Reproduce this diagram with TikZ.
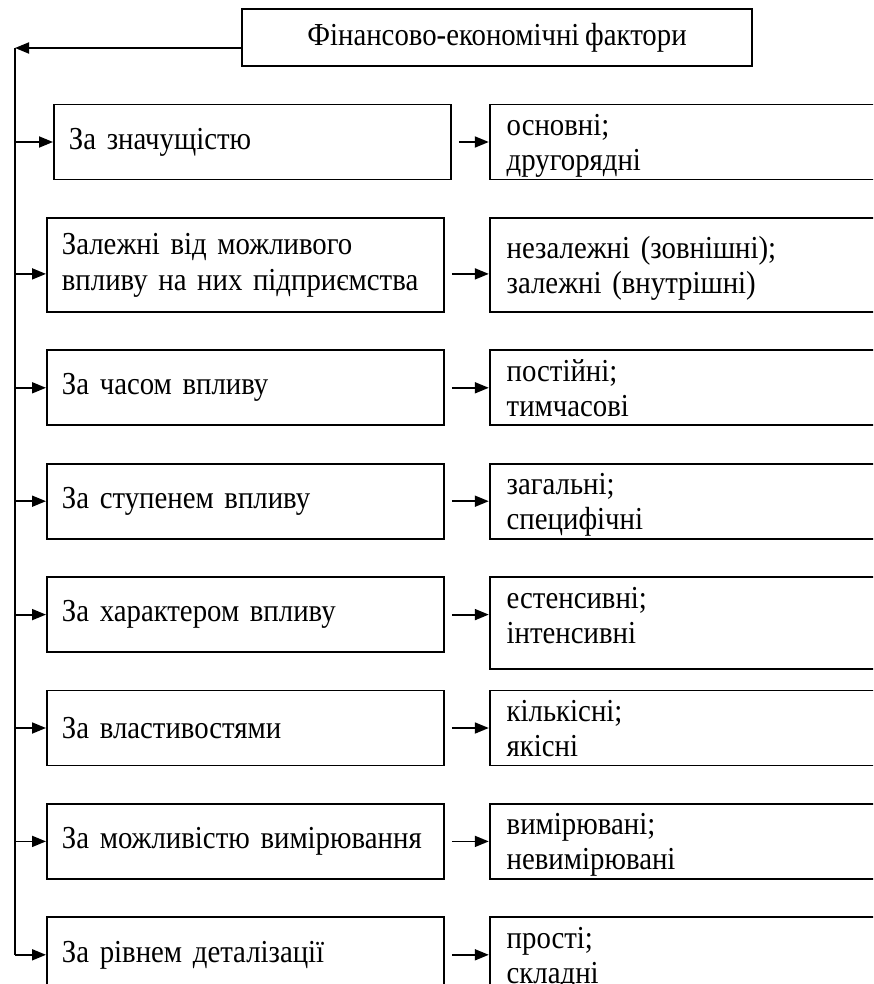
\documentclass[tikz,border=0pt]{standalone}
\usepackage{fontspec}
\setmainfont{Liberation Serif}[FakeStretch=0.9,WordSpace=0.8]
\usepackage{tikz}
\usetikzlibrary{arrows.meta,positioning,calc}

\begin{document}
\begin{tikzpicture}[
  x=0.5pt,y=-0.5pt,
  node distance=18.3pt,
  every node/.style={font=\fontsize{16pt}{18pt}\selectfont},
  tbox/.style={rectangle,draw,line width=0.9pt,minimum width=255pt,minimum height=28.5pt,align=center},
  lbox/.style={rectangle,draw,line width=0.9pt,text width=183.5pt,inner xsep=7.5pt,inner ysep=2pt,
               minimum height=37.5pt,align=left},
  rbox/.style={rectangle,draw,line width=0.9pt,text width=198pt,inner xsep=8.5pt,inner ysep=1.5pt,
               font=\fontsize{16pt}{17.5pt}\selectfont,
               text height=14pt,text depth=20.5pt,minimum height=37.5pt,align=left},
  arrow/.style={-{Triangle[length=7pt,width=5.5pt]},line width=0.9pt},
  line/.style={line width=0.9pt},
]
\useasboundingbox (0,0) rectangle (873,984);
\clip (0,0) rectangle (873,984);

\node[tbox] (fin) at (497,37.5) {Фінансово-економічні фактори};

% left column
\node[lbox,anchor=north west,minimum height=47pt] (l2) at (46,217) {Залежні від можливого\\впливу~на~них~підприємства};
\node[lbox,above=of l2,xshift=3.5pt] (l1) {За значущістю};
\node[lbox,below=of l2] (l3) {За часом впливу};
\node[lbox,below=of l3] (l4) {За ступенем впливу};
\node[lbox,below=of l4] (l5) {За характером впливу};
\node[lbox,below=of l5] (l6) {За властивостями};
\node[lbox,below=of l6] (l7) {За~можливістю~вимірювання};
\node[lbox,below=of l7] (l8) {За рівнем деталізації};

% right column
\node[rbox,right=18.5pt of l1.north east,anchor=north west] (k1) {основні;\\другорядні};
\node[rbox,right=22pt of l2.north east,anchor=north west,minimum height=47pt] (k2) {незалежні (зовнішні);\\залежні (внутрішні)};
\node[rbox,right=22pt of l3.north east,anchor=north west] (k3) {постійні;\\тимчасові};
\node[rbox,right=22pt of l4.north east,anchor=north west] (k4) {загальні;\\специфічні};
\node[rbox,right=22pt of l5.north east,anchor=north west,text depth=29pt] (k5) {естенсивні;\\інтенсивні};
\node[rbox,right=22pt of l6.north east,anchor=north west] (k6) {кількісні;\\якісні};
\node[rbox,right=22pt of l7.north east,anchor=north west] (k7) {вимірювані;\\невимірювані};
\node[rbox,right=22pt of l8.north east,anchor=north west] (k8) {прості;\\складні};

% spine
\coordinate (top) at (15,48);
\draw[arrow] ([yshift=-5.25pt]fin.west) -- (top);
\draw[line] (top) -- (top |- l8.west);
\draw[arrow] (top |- l1.west) -- (l1.west);
\draw[arrow] ([yshift=-4.5pt]top |- l2.west) -- ([yshift=-4.5pt]l2.west);
\draw[arrow] (top |- l3.west) -- (l3.west);
\draw[arrow] (top |- l4.west) -- (l4.west);
\draw[arrow] (top |- l5.west) -- (l5.west);
\draw[arrow] (top |- l6.west) -- (l6.west);
\draw[arrow] (top |- l7.west) -- (l7.west);
\draw[arrow] (top |- l8.west) -- (l8.west);

% to the kinds
\draw[arrow] ([xshift=3.5pt]l1.east) -- (l1.east -| k1.west);
\draw[arrow] ([shift={(3.5pt,-4.5pt)}]l2.east) -- ([yshift=-4.5pt]l2.east -| k2.west);
\draw[arrow] ([xshift=3.5pt]l3.east) -- (l3.east -| k3.west);
\draw[arrow] ([xshift=3.5pt]l4.east) -- (l4.east -| k4.west);
\draw[arrow] ([xshift=3.5pt]l5.east) -- (l5.east -| k5.west);
\draw[arrow] ([xshift=3.5pt]l6.east) -- (l6.east -| k6.west);
\draw[arrow] ([xshift=3.5pt]l7.east) -- (l7.east -| k7.west);
\draw[arrow] ([xshift=3.5pt]l8.east) -- (l8.east -| k8.west);
\end{tikzpicture}
\end{document}
